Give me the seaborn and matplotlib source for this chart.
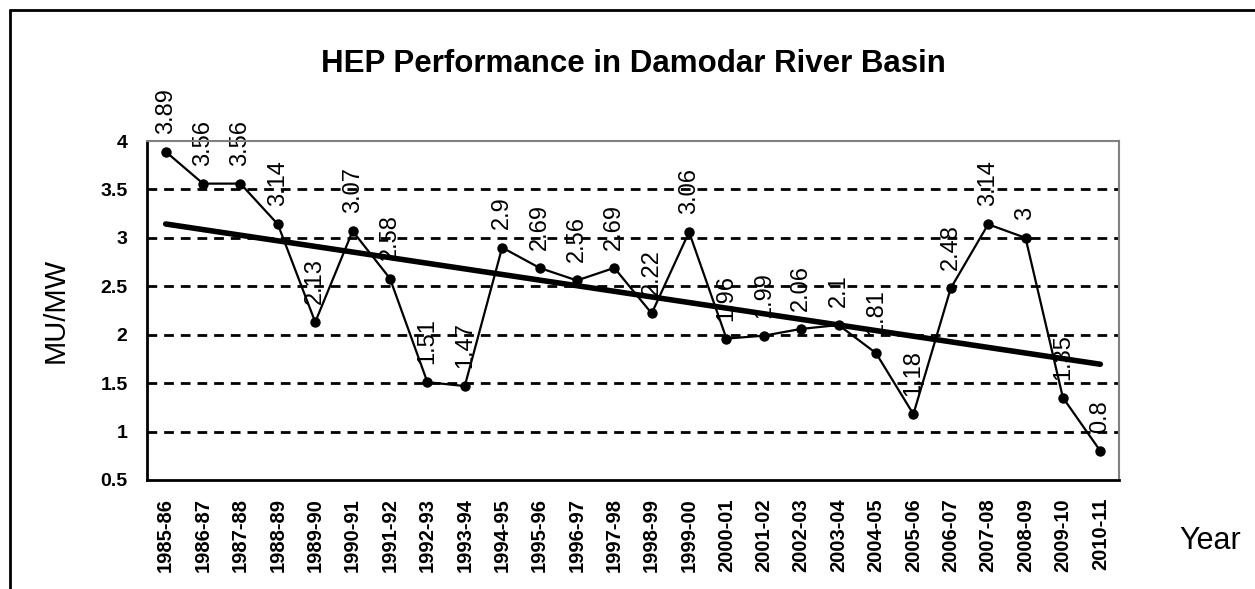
import numpy as np
import pandas as pd
import seaborn as sns
import matplotlib.pyplot as plt
from matplotlib.lines import Line2D
from matplotlib.ticker import FixedLocator

years = ['1985-86', '1986-87', '1987-88', '1988-89', '1989-90', '1990-91', '1991-92',
         '1992-93', '1993-94', '1994-95', '1995-96', '1996-97', '1997-98', '1998-99',
         '1999-00', '2000-01', '2001-02', '2002-03', '2003-04', '2004-05', '2005-06',
         '2006-07', '2007-08', '2008-09', '2009-10', '2010-11']
mu_mw = [3.89, 3.56, 3.56, 3.14, 2.13, 3.07, 2.58, 1.51, 1.47, 2.9, 2.69, 2.56, 2.69,
         2.22, 3.06, 1.96, 1.99, 2.06, 2.1, 1.81, 1.18, 2.48, 3.14, 3, 1.35, 0.8]
y_ticks = [0.5, 1, 1.5, 2, 2.5, 3, 3.5, 4]

sns.set_style("white")
plt.rcParams['font.family'] = ['Liberation Sans', 'DejaVu Sans']
plt.rcParams.update({'text.color': 'black', 'axes.labelcolor': 'black',
                     'xtick.color': 'black', 'ytick.color': 'black'})

df = pd.DataFrame({'idx': np.arange(len(years)), 'year': years, 'mu': mu_mw})

fig = plt.figure(figsize=(12.55, 5.89), dpi=100)
ax = fig.add_axes([147 / 1255, 1 - 480 / 589, (1119 - 147) / 1255, (480 - 141) / 589])

# dashed grid lines (top one is the grey plot border)
for yv in y_ticks[1:-1]:
    ax.axhline(yv, color='black', lw=2, linestyle=(0, (3.5, 2.5)), zorder=1)

# data labels sit under the lines, as in the original
for i, v in zip(df['idx'], df['mu']):
    ax.annotate(f'{v:g}', (i, v), xytext=(0, 13), textcoords='offset points',
                rotation=90, ha='center', va='bottom', fontsize=17, zorder=2)

sns.lineplot(data=df, x='idx', y='mu', ax=ax, color='black', lw=1.6,
             marker='o', markersize=7.5, markeredgewidth=0, zorder=4)
sns.regplot(data=df, x='idx', y='mu', ax=ax, scatter=False, ci=None,
            color='black', line_kws=dict(lw=4, solid_capstyle='round'))

ax.set_xlim(-0.5, len(years) - 0.5)
ax.set_ylim(0.5, 4)
ax.set_yticks(y_ticks)
ax.set_yticklabels([f'{t:g}' for t in y_ticks], fontweight='bold', fontsize=14)
ax.set_xticks(df['idx'])
ax.set_xticklabels(years, rotation=90, fontweight='bold', fontsize=14.5)
ax.xaxis.set_minor_locator(FixedLocator(np.arange(len(years) + 1) - 0.5))
ax.tick_params(axis='x', which='major', length=0, pad=13)
ax.tick_params(axis='x', which='minor', length=6, width=1.5, direction='out', color='black')
ax.tick_params(axis='y', length=6, width=1.5, direction='out', color='black', pad=8)
ax.set_xlabel('')
ax.set_ylabel('MU/MW', fontsize=21, labelpad=22)

for side in ['left', 'bottom']:
    ax.spines[side].set_color('black')
    ax.spines[side].set_linewidth(2)
for side in ['top', 'right']:
    ax.spines[side].set_color('#808080')
    ax.spines[side].set_linewidth(1.5)

ax.set_title('HEP Performance in Damodar River Basin', fontsize=22.5,
             fontweight='bold', pad=50)
fig.text(1210 / 1255, 1 - 541 / 589, 'Year', fontsize=22, ha='center', va='center')

# outer chart border (only left and top edges are inside the picture)
fig.add_artist(Line2D([10 / 1255, 10 / 1255], [0, 1 - 10 / 589], color='black', lw=2,
                      transform=fig.transFigure))
fig.add_artist(Line2D([10 / 1255, 1], [1 - 10 / 589, 1 - 10 / 589], color='black', lw=2,
                      transform=fig.transFigure))

fig.savefig('out.png', dpi=100, facecolor='white')
